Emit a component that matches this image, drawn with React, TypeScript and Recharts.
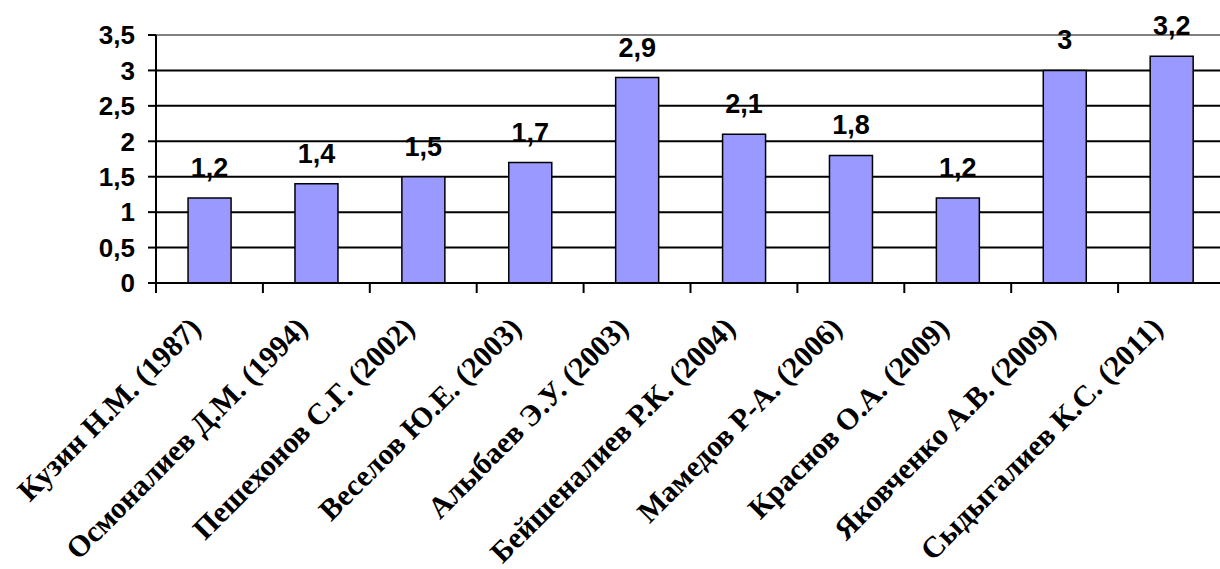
import React from "react";
import { BarChart, Bar, XAxis, YAxis, CartesianGrid, ReferenceLine, LabelList } from "recharts";

const categories = [
  "Кузин Н.М. (1987)",
  "Осмоналиев Д.М. (1994)",
  "Пешехонов С.Г. (2002)",
  "Веселов Ю.Е. (2003)",
  "Алыбаев Э.У. (2003)",
  "Бейшеналиев Р.К. (2004)",
  "Мамедов Р-А. (2006)",
  "Краснов О.А. (2009)",
  "Яковченко А.В. (2009)",
  "Сыдыгалиев К.С. (2011)",
];
const values = [1.2, 1.4, 1.5, 1.7, 2.9, 2.1, 1.8, 1.2, 3, 3.2];
const yTicks = [0, 0.5, 1, 1.5, 2, 2.5, 3, 3.5];

const data = categories.map((name, i) => ({ name, value: values[i] }));

const CHART_W = 1240;
const CHART_H = 569;
const MARGIN = { top: 35, right: 15, bottom: 0, left: 0 };
const Y_AXIS_W = 156;
const X_AXIS_H = 286;
const BAND = (CHART_W - MARGIN.right - MARGIN.left - Y_AXIS_W) / categories.length;

const fmt = (v: number) => String(v).replace(".", ",");
const SANS = "Arial, 'Liberation Sans', sans-serif";
const SERIF = "'Times New Roman', 'Liberation Serif', serif";

const CategoryTick = (props: any) => {
  const { x, y, payload, index } = props;
  const left = x - BAND / 2;
  const right = x + BAND / 2;
  return (
    <g>
      <line x1={left} y1={y} x2={left} y2={y + 10} stroke="#000" strokeWidth={2} />
      {index === categories.length - 1 && (
        <line x1={right} y1={y} x2={right} y2={y + 10} stroke="#000" strokeWidth={2} />
      )}
      <text
        transform={`translate(${x - 7},${y + 47}) rotate(-45)`}
        textAnchor="end"
        fontFamily={SERIF}
        fontWeight={700}
        fontSize={30}
        fill="#000"
      >
        {payload.value}
      </text>
    </g>
  );
};

const ValueLabel = (props: any) => {
  const { x, y, width, value } = props;
  return (
    <text
      x={x + width / 2}
      y={y - 21}
      textAnchor="middle"
      fontFamily={SANS}
      fontWeight={700}
      fontSize={27}
      fill="#000"
    >
      {fmt(value)}
    </text>
  );
};

export default function App() {
  return (
    <div style={{ position: "fixed", left: 0, top: 0, width: 1220, height: 569, overflow: "hidden", background: "#fff" }}>
      <BarChart width={CHART_W} height={CHART_H} data={data} margin={MARGIN} barCategoryGap="30%">
        <CartesianGrid vertical={false} stroke="#000" strokeWidth={2} horizontalValues={yTicks} />
        <ReferenceLine y={3.5} stroke="#808080" strokeWidth={2} />
        <XAxis
          dataKey="name"
          height={X_AXIS_H}
          interval={0}
          tickLine={false}
          tickSize={0}
          tickMargin={0}
          axisLine={{ stroke: "#000", strokeWidth: 2 }}
          tick={<CategoryTick />}
        />
        <YAxis
          width={Y_AXIS_W}
          domain={[0, 3.5]}
          ticks={yTicks}
          interval={0}
          tickFormatter={fmt}
          tickSize={8}
          tickMargin={13}
          axisLine={{ stroke: "#000", strokeWidth: 2 }}
          tickLine={{ stroke: "#000", strokeWidth: 2 }}
          tick={{ fill: "#000", fontSize: 26, fontWeight: 700, fontFamily: SANS }}
        />
        <Bar dataKey="value" fill="#9999FF" stroke="#000" strokeWidth={1.5} isAnimationActive={false}>
          <LabelList dataKey="value" content={<ValueLabel />} />
        </Bar>
      </BarChart>
    </div>
  );
}
